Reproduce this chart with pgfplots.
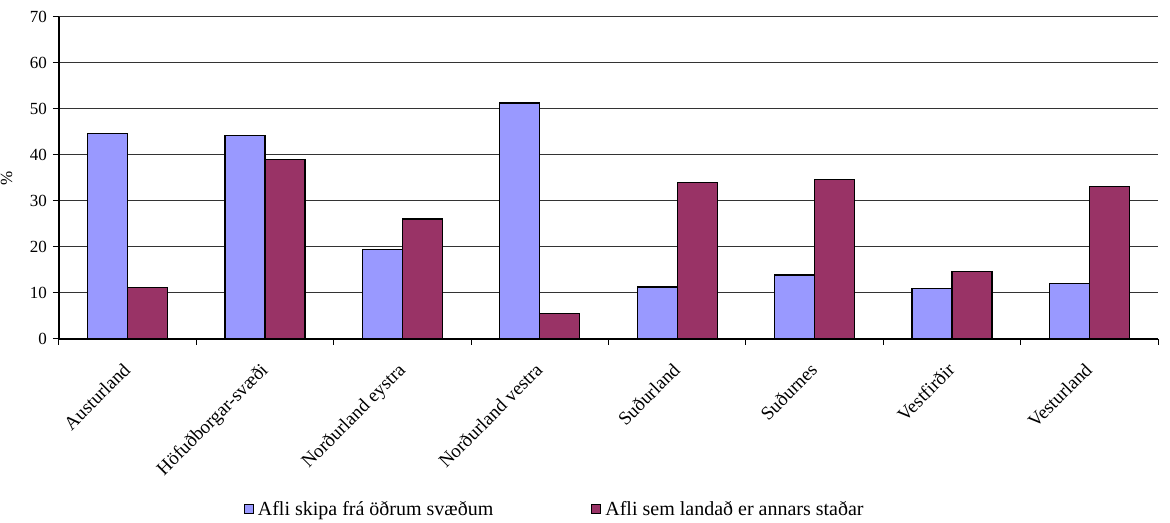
\documentclass[border=0pt]{standalone}
\usepackage{pgfplots}
\pgfplotsset{compat=1.18}
\usepackage{fontspec}
\setmainfont{Liberation Serif}
\definecolor{cblue}{HTML}{9999FF}
\definecolor{cred}{HTML}{993366}
\begin{document}
\fontsize{8.5}{10}\selectfont
\begin{tikzpicture}
\useasboundingbox (-29.5pt,-92pt) rectangle (555.5pt,169.5pt);
\begin{axis}[
  at={(0,0)}, anchor=south west,
  scale only axis, width=549.5pt, height=161pt,
  ybar=0pt, bar width=20pt,
  xmin=-0.5, xmax=7.5, ymin=0, ymax=70,
  ytick={0,10,...,70},
  xtick={0,...,7},
  xticklabels={Austurland,Höfuðborgar-svæði,Norðurland eystra,Norðurland vestra,Suðurland,Suðurnes,Vestfirðir,Vesturland},
  minor xtick={-0.5,0.5,...,7.5},
  major x tick style={draw=none},
  minor tick length=3pt,
  major tick length=3pt,
  tick align=outside,
  tick style={black, line width=0.5pt},
  axis x line*=bottom, axis y line*=left,
  axis line style={-, line width=0.6pt},
  ymajorgrids, grid style={black!80, line width=0.5pt},
  /pgf/number format/assume math mode=true,
  tick label style={font=\fontsize{8.5}{10}\selectfont},
  xticklabel style={font=\fontsize{9.5}{11}\selectfont, rotate=45, anchor=north east, xshift=-5pt, yshift=-1pt},
  ylabel={\%}, ylabel style={font=\fontsize{8.5}{10}\selectfont, at={(axis description cs:-0.037,0.5)}, anchor=south},
  legend columns=2,
  legend style={draw=none, at={(axis description cs:0.452,-0.531)}, anchor=center, font=\fontsize{10}{12}\selectfont, /tikz/every even column/.append style={column sep=47pt}},
  legend image code/.code={\draw[#1, draw=black, line width=0.5pt] (0pt,-2pt) rectangle (4.5pt,2.5pt);},
]
\addplot[fill=cblue, draw=black, line width=0.6pt] coordinates {(0,44.7) (1,44.3) (2,19.4) (3,51.3) (4,11.3) (5,13.9) (6,10.9) (7,12.0)};
\addplot[fill=cred, draw=black, line width=0.6pt] coordinates {(0,11.2) (1,39.1) (2,26.1) (3,5.6) (4,34.0) (5,34.6) (6,14.6) (7,33.2)};
\legend{Afli skipa frá öðrum svæðum, Afli sem landað er annars staðar}
\end{axis}
\end{tikzpicture}
\end{document}
